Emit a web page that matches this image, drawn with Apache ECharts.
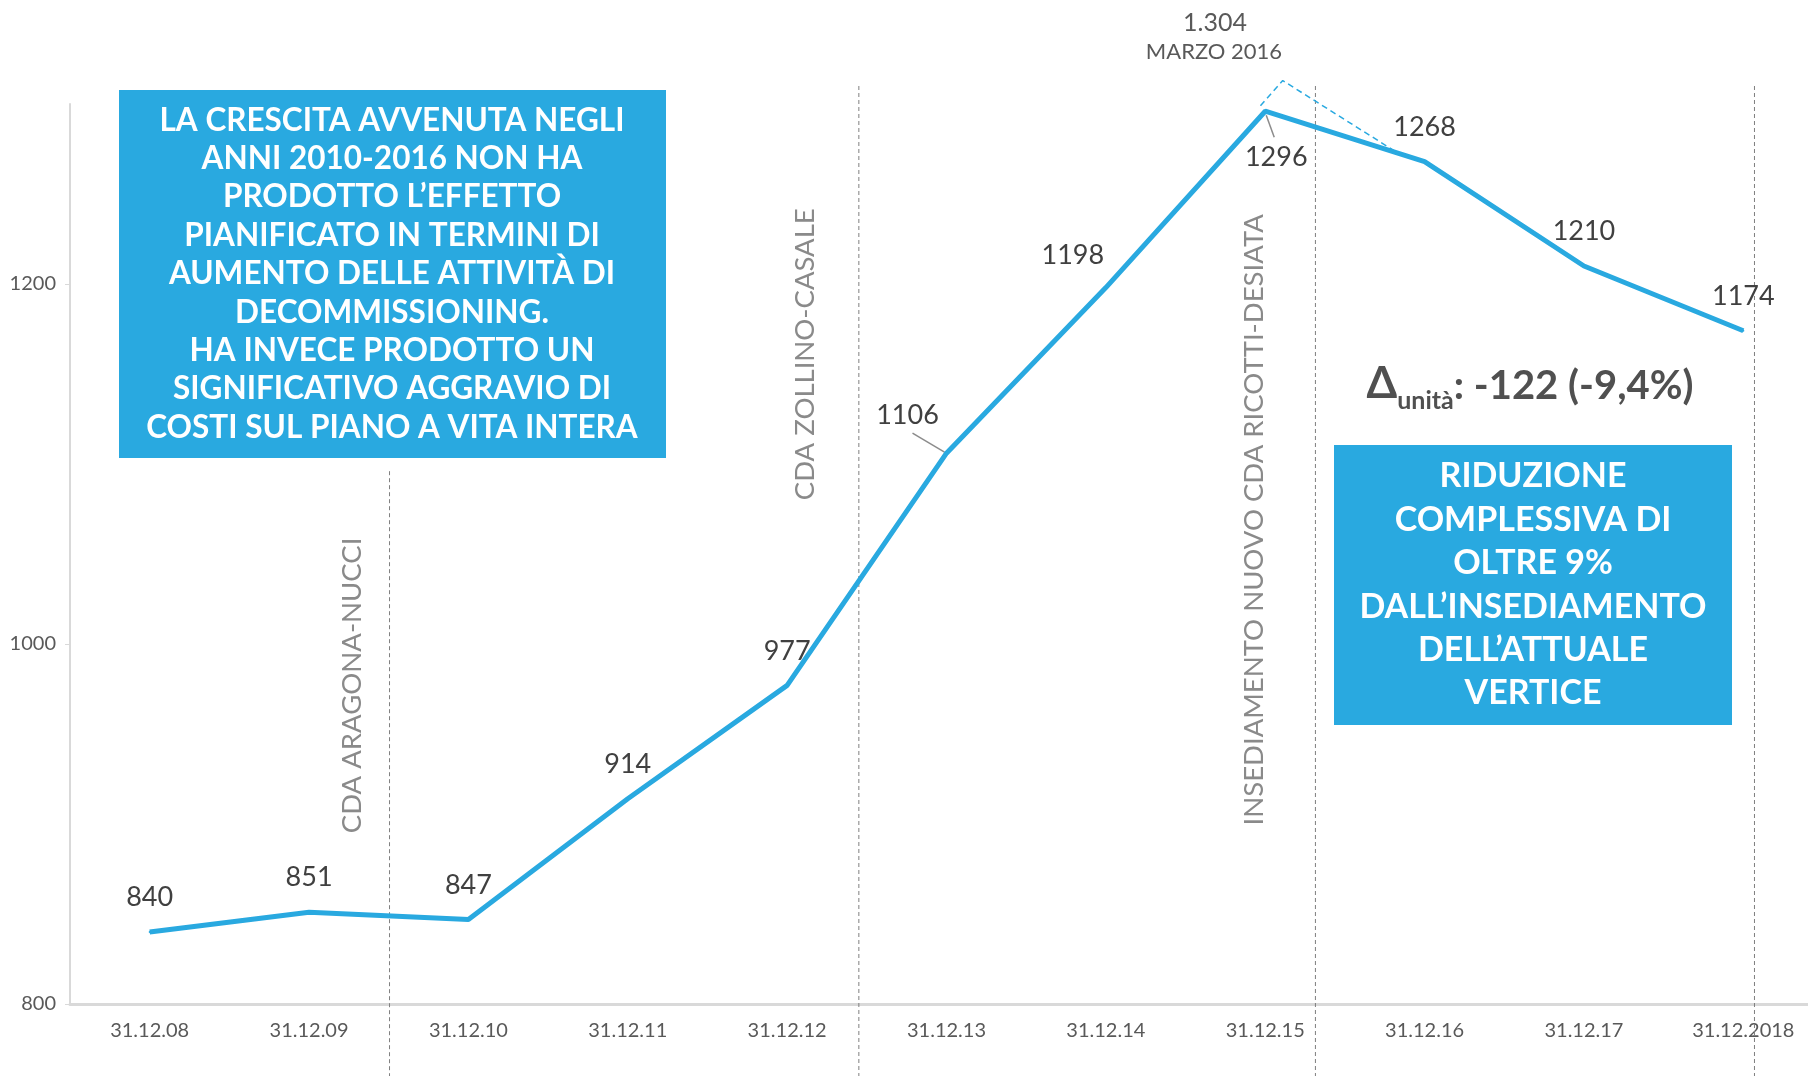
<!DOCTYPE html>
<html><head><meta charset="utf-8">
<script src="https://cdn.jsdelivr.net/npm/echarts@6/dist/echarts.min.js"></script>
<style>html,body{margin:0;padding:0;background:#fff}#c{width:1808px;height:1076px}</style>
</head><body><div id="c"></div>
<script>
// ---- data ----
const categories = ['31.12.08','31.12.09','31.12.10','31.12.11','31.12.12','31.12.13','31.12.14','31.12.15','31.12.16','31.12.17','31.12.2018'];
const units = [840, 851, 847, 914, 977, 1106, 1198, 1296, 1268, 1210, 1174];
const yTickValues = [800, 1000, 1200];
// event markers (position in category-index units)
const eventX = [1.505, 4.45, 7.315, 10.07];
const eventTop = [1096, 1310, 1310, 1310];
const eventLabels = ['CDA ARAGONA-NUCCI', 'CDA ZOLLINO-CASALE', 'INSEDIAMENTO NUOVO CDA RICOTTI-DESIATA'];
const eventLabelX = [1.27, 4.11, 6.93];
const eventLabelY = [977, 1161, 1069];
// peak marker (March 2016, 1.304) drawn as dashed triangle
const peakPath = [[6.97, 1299], [7.11, 1313], [7.81, 1274]];
const peakTexts = ['1.304', 'MARZO 2016'];
const leaderIdx = [5, 7];
const box1Lines = ['LA CRESCITA AVVENUTA NEGLI','ANNI 2010-2016 NON HA','PRODOTTO L\u2019EFFETTO','PIANIFICATO IN TERMINI DI','AUMENTO DELLE ATTIVIT\u00c0 DI','DECOMMISSIONING.','HA INVECE PRODOTTO UN','SIGNIFICATIVO AGGRAVIO DI','COSTI SUL PIANO A VITA INTERA'];
const box2Lines = ['RIDUZIONE','COMPLESSIVA DI','OLTRE 9%','DALL\u2019INSEDIAMENTO','DELL\u2019ATTUALE','VERTICE'];
const deltaText = ['\u0394', 'unit\u00e0', ': -122 (-9,4%)'];

// ---- styles ----
const BLUE = '#29A9E0';
const FONT = 'Lato, "Noto Sans", sans-serif';
const labelOverrides = {
  5: {offset: [-39, -3]},
  6: {offset: [-33, 2]},
  7: {position: 'bottom', offset: [11, 12]}
};
const leaderOffsets = {5: [[-34, -20], [-2, -1]], 7: [[1, 4], [9, 26]]};

const seriesData = units.map((v, i) => {
  const o = labelOverrides[i];
  return o ? {value: v, label: Object.assign({}, o)} : v;
});

const chart = echarts.init(document.getElementById('c'), null, {renderer: 'canvas'});
chart.setOption({
  animation: false,
  backgroundColor: '#fff',
  grid: {left: 70, right: -15, top: 104, bottom: 72, containLabel: false, outerBoundsMode: 'none'},
  xAxis: [{
    type: 'category', data: categories, boundaryGap: true,
    axisLine: {lineStyle: {color: '#d9d9d9', width: 3}},
    axisTick: {show: false},
    axisLabel: {color: '#595959', fontFamily: FONT, fontSize: 20, margin: 17}
  }, {
    type: 'value', min: -0.5, max: 10.5, show: false
  }],
  yAxis: {
    type: 'value', min: 800, max: 1300, interval: 200,
    splitLine: {show: false},
    axisLine: {show: true, onZero: false, lineStyle: {color: '#d9d9d9', width: 2}},
    axisTick: {show: true, length: 5, lineStyle: {color: '#d9d9d9'}, customValues: yTickValues},
    axisLabel: {color: '#595959', fontFamily: FONT, fontSize: 20, margin: 14, customValues: yTickValues,
      formatter: v => String(v)}
  },
  series: [{
    type: 'custom', xAxisIndex: 1, clip: false, silent: true, z: 1,
    data: eventX.map((x, i) => [x, eventTop[i]]),
    renderItem: function (params, api) {
      const top = api.coord([api.value(0), api.value(1)]);
      return {type: 'line', shape: {x1: top[0], y1: top[1], x2: top[0], y2: api.getHeight()},
        style: {stroke: '#7f7f7f', lineWidth: 1, lineDash: [4, 3]}};
    }
  }, {
    type: 'custom', xAxisIndex: 1, clip: false, silent: true, z: 2,
    data: eventLabelX.map((x, i) => [x, eventLabelY[i], i]),
    renderItem: function (params, api) {
      const p = api.coord([api.value(0), api.value(1)]);
      return {type: 'text', x: p[0], y: p[1], rotation: Math.PI / 2,
        style: {text: eventLabels[api.value(2)], fill: '#8a8a8a', font: '27.5px ' + FONT,
          align: 'center', verticalAlign: 'middle'}};
    }
  }, {
    type: 'line', xAxisIndex: 1, data: peakPath, clip: false, silent: true,
    symbol: 'none', lineStyle: {color: BLUE, width: 1.5, type: [6, 4]}, z: 3
  }, {
    type: 'custom', xAxisIndex: 0, clip: false, silent: true, z: 4,
    data: leaderIdx.map(i => [i, units[i]]),
    renderItem: function (params, api) {
      const idx = api.value(0);
      const p = api.coord([idx, api.value(1)]);
      const o = leaderOffsets[idx];
      return {type: 'line', shape: {x1: p[0] + o[0][0], y1: p[1] + o[0][1], x2: p[0] + o[1][0], y2: p[1] + o[1][1]},
        style: {stroke: '#8c8c8c', lineWidth: 1.5}};
    }
  }, {
    type: 'line', data: seriesData, z: 5,
    symbol: 'circle', symbolSize: 2, showSymbol: true,
    itemStyle: {color: BLUE},
    lineStyle: {color: BLUE, width: 5},
    label: {show: true, position: 'top', distance: 20, color: '#404040', fontFamily: FONT, fontSize: 27}
  }],
  graphic: [
    {type: 'rect', shape: {x: 119, y: 90, width: 547, height: 368}, style: {fill: BLUE}, z: 10},
    {type: 'text', x: 392, y: 274, z: 11, style: {text: box1Lines.join('\n'), fill: '#fff', font: 'bold 31.5px ' + FONT,
      lineHeight: 38.4, align: 'center', verticalAlign: 'middle'}},
    {type: 'rect', shape: {x: 1334, y: 445, width: 398, height: 280}, style: {fill: BLUE}, z: 10},
    {type: 'text', x: 1533, y: 585, z: 11, style: {text: box2Lines.join('\n'), fill: '#fff', font: 'bold 34px ' + FONT,
      lineHeight: 43.4, align: 'center', verticalAlign: 'middle'}},
    {type: 'text', x: 1530, y: 384, z: 11, style: {
      text: '{d|' + deltaText[0] + '}{s|' + deltaText[1] + '}{m|' + deltaText[2] + '}',
      align: 'center', verticalAlign: 'middle',
      rich: {
        d: {font: 'bold 44px ' + FONT, fill: '#505050', verticalAlign: 'bottom'},
        s: {font: 'bold 25px ' + FONT, fill: '#505050', verticalAlign: 'bottom', padding: [0, 0, -7, 0]},
        m: {font: 'bold 40px ' + FONT, fill: '#505050', verticalAlign: 'bottom'}
      }}},
    {type: 'text', x: 1215, y: 23, style: {text: peakTexts[0], fill: '#595959', font: '25px ' + FONT, align: 'center', verticalAlign: 'middle'}},
    {type: 'text', x: 1214, y: 52, style: {text: peakTexts[1], fill: '#595959', font: '22px ' + FONT, align: 'center', verticalAlign: 'middle'}}
  ]
});
</script>
</body></html>
